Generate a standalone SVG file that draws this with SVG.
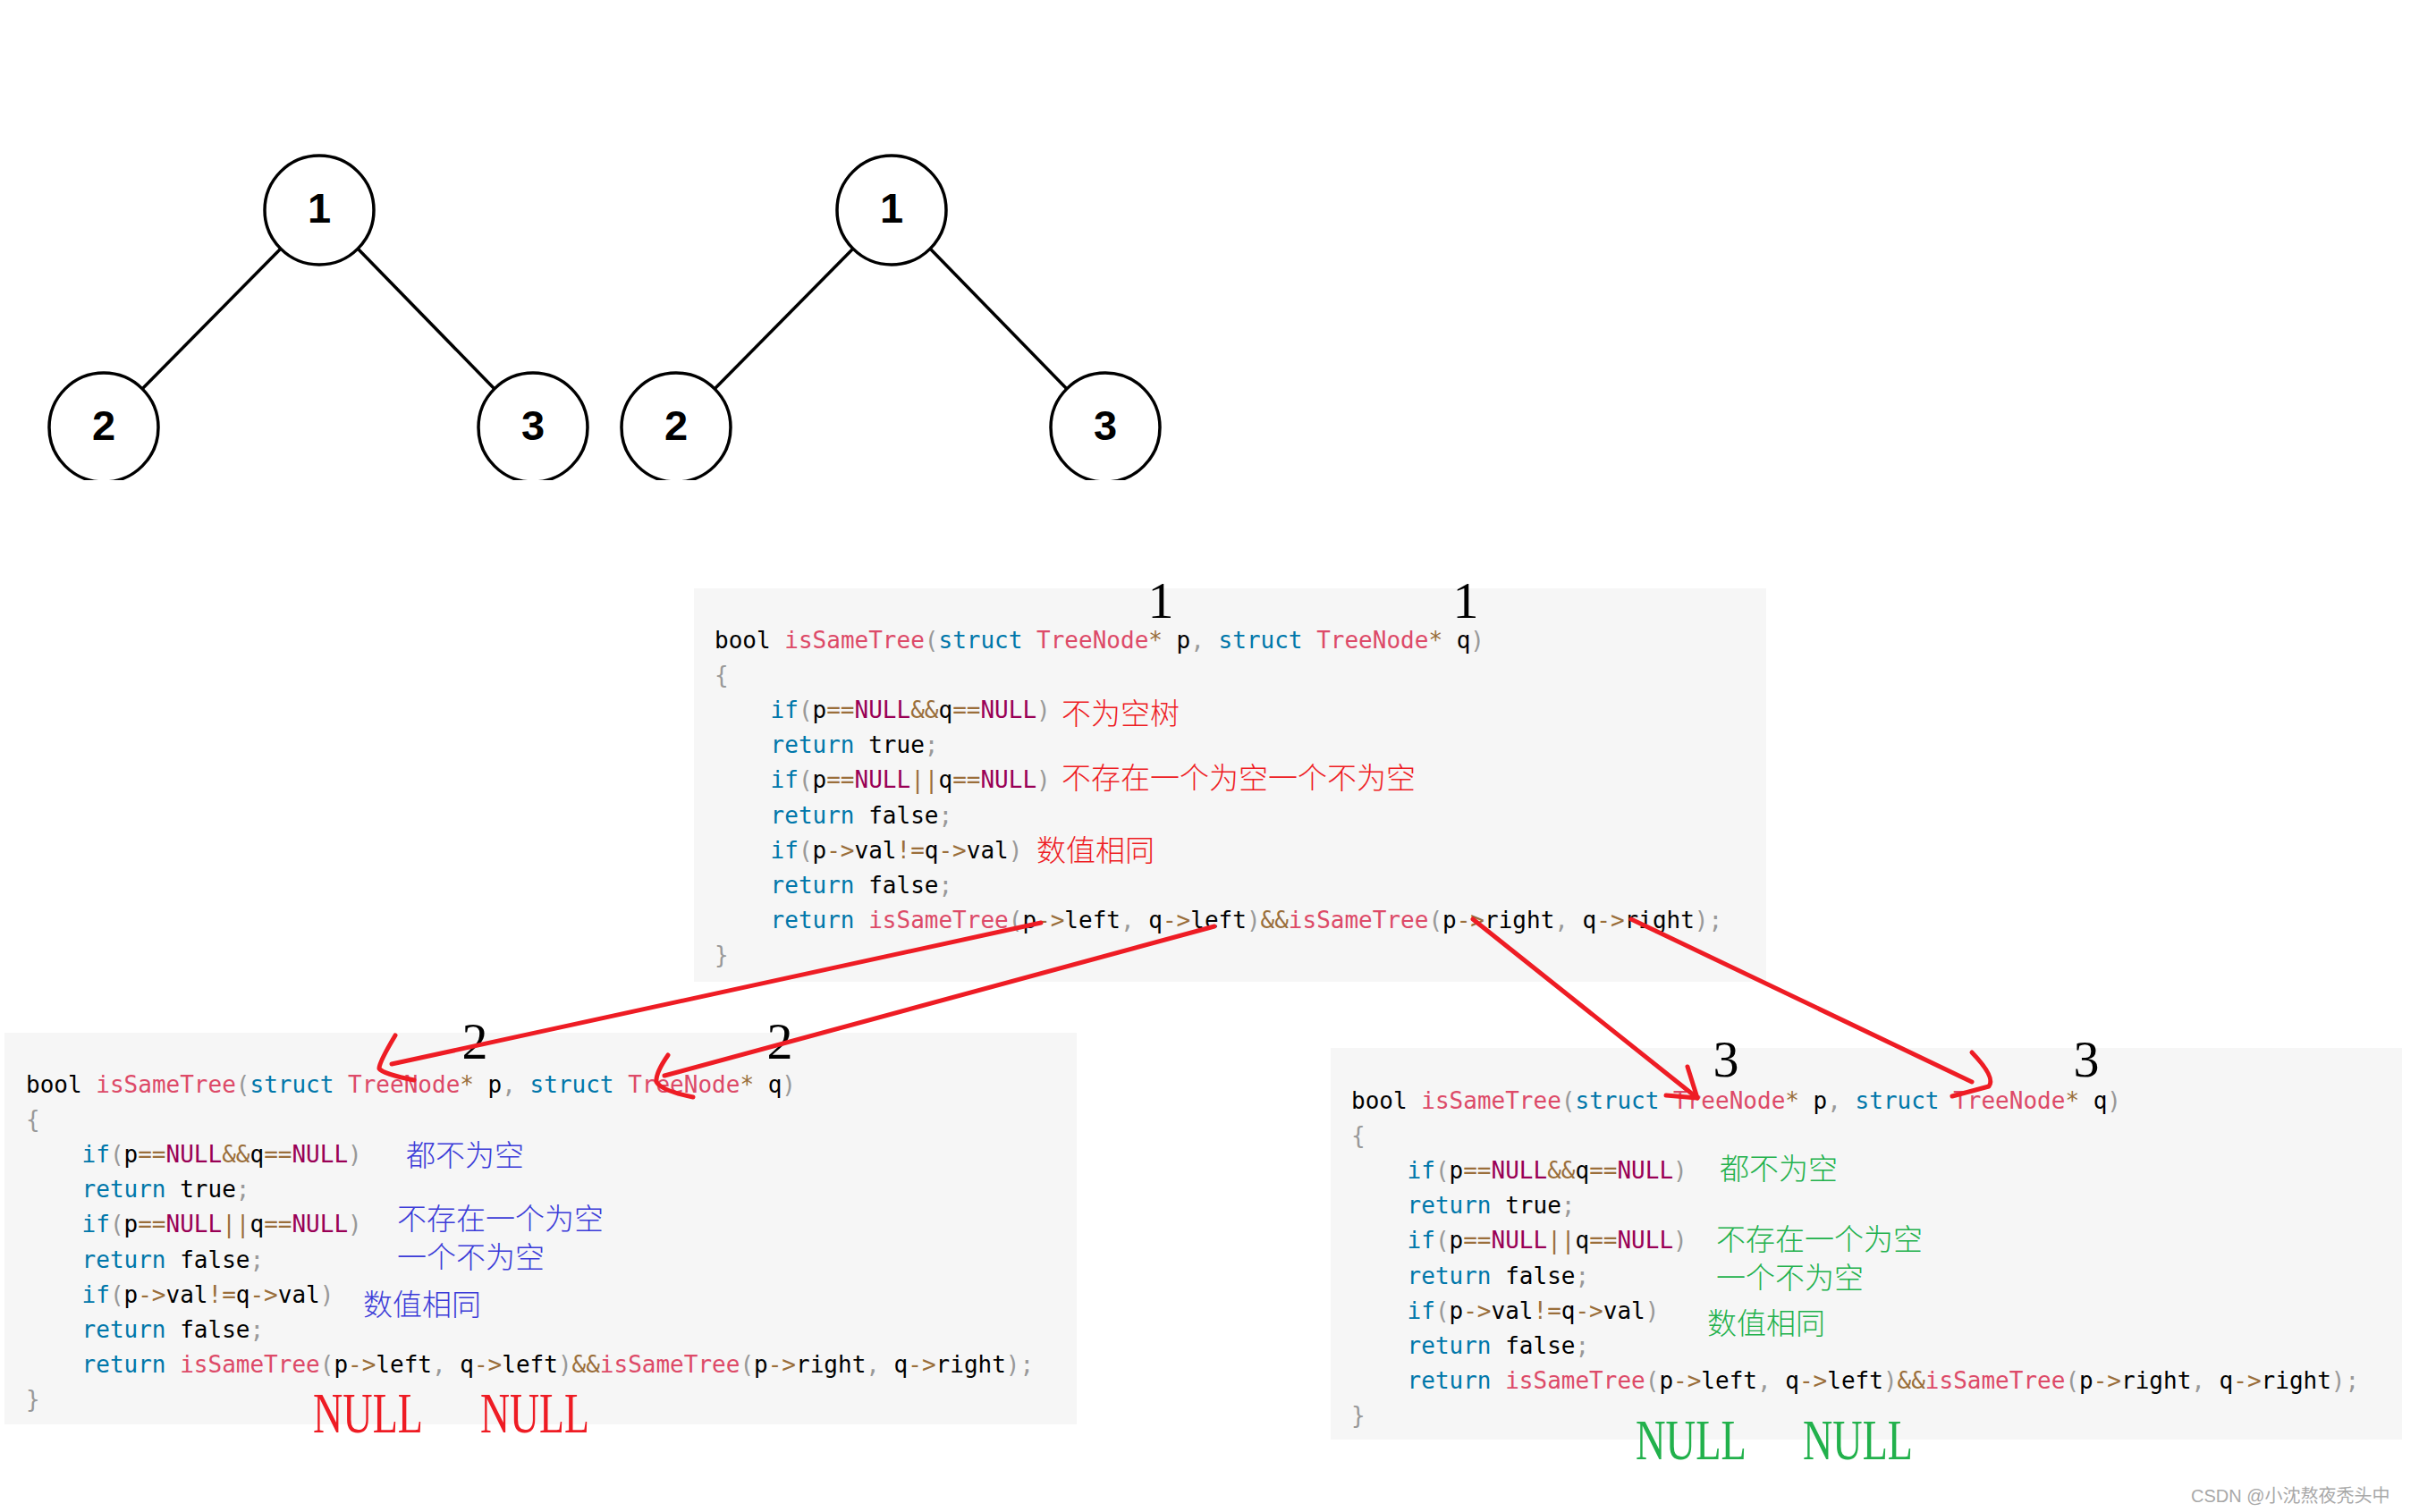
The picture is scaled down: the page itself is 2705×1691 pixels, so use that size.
<svg xmlns="http://www.w3.org/2000/svg" width="2705" height="1691" viewBox="0 0 2705 1691">
<style>
.bg{fill:#f6f6f6}
.ln{font-family:"DejaVu Sans Mono",monospace;font-size:26px;fill:#000;white-space:pre}
.k{fill:#0077aa}.f{fill:#dd4a68}.o{fill:#9a6e3a}.p{fill:#999999}.c{fill:#990055}
.node circle{fill:#fff;stroke:#000;stroke-width:3.5}
.node text{font-family:"Liberation Sans",Arial,sans-serif;font-weight:bold;font-size:47px;text-anchor:middle;fill:#000}
.edge{stroke:#000;stroke-width:3.5;fill:none}
.big{font-family:"Liberation Serif","Times New Roman",serif;font-size:58px;fill:#000;text-anchor:middle}
.cjk{font-family:"Noto Sans CJK SC",sans-serif;font-size:33px;font-weight:300}
.red{fill:#ee1c24}.blue{fill:#3b3bd8}.green{fill:#22b14c}
.null{font-family:"Liberation Serif","Times New Roman",serif;font-size:63px}
.arrow{stroke:#ee1c24;stroke-width:5;fill:none;stroke-linecap:round;stroke-linejoin:round}
.wm{font-family:"Liberation Sans","Noto Sans CJK SC",sans-serif;font-size:20px;fill:#a8a8a8}
</style>
<defs>
<clipPath id="treeclip"><rect x="0" y="0" width="1400" height="537"/></clipPath>
</defs>
<rect width="2705" height="1691" fill="#fff"/>

<g id="trees" clip-path="url(#treeclip)">
<g id="tree1-edges">
<line class="edge" x1="314" y1="278" x2="159" y2="435"/>
<line class="edge" x1="400" y1="278" x2="553" y2="435"/>
</g>
<g id="tree2-edges">
<line class="edge" x1="954" y1="278" x2="799" y2="435"/>
<line class="edge" x1="1040" y1="278" x2="1193" y2="435"/>
</g>
<g id="t1n1" class="node"><circle cx="357" cy="235" r="61"/><text x="357" y="249">1</text></g>
<g id="t1n2" class="node"><circle cx="116" cy="478" r="61"/><text x="116" y="492">2</text></g>
<g id="t1n3" class="node"><circle cx="596" cy="478" r="61"/><text x="596" y="492">3</text></g>
<g id="t2n1" class="node"><circle cx="997" cy="235" r="61"/><text x="997" y="249">1</text></g>
<g id="t2n2" class="node"><circle cx="756" cy="478" r="61"/><text x="756" y="492">2</text></g>
<g id="t2n3" class="node"><circle cx="1236" cy="478" r="61"/><text x="1236" y="492">3</text></g>
</g>

<g id="block1" transform="translate(799,725)">
<rect class="bg" x="-23" y="-67" width="1199" height="440"/>
<text class="ln" x="0" y="0" xml:space="preserve">bool <tspan class="f">isSameTree</tspan><tspan class="p">(</tspan><tspan class="k">struct</tspan> <tspan class="f">TreeNode</tspan><tspan class="o">*</tspan> p<tspan class="p">,</tspan> <tspan class="k">struct</tspan> <tspan class="f">TreeNode</tspan><tspan class="o">*</tspan> q<tspan class="p">)</tspan></text>
<text class="ln p" x="0" y="39.1">{</text>
<text class="ln" x="62.6" y="78.2" xml:space="preserve"><tspan class="k">if</tspan><tspan class="p">(</tspan>p<tspan class="o">==</tspan><tspan class="c">NULL</tspan><tspan class="o">&amp;&amp;</tspan>q<tspan class="o">==</tspan><tspan class="c">NULL</tspan><tspan class="p">)</tspan></text>
<text class="ln" x="62.6" y="117.3" xml:space="preserve"><tspan class="k">return</tspan> true<tspan class="p">;</tspan></text>
<text class="ln" x="62.6" y="156.4" xml:space="preserve"><tspan class="k">if</tspan><tspan class="p">(</tspan>p<tspan class="o">==</tspan><tspan class="c">NULL</tspan><tspan class="o">||</tspan>q<tspan class="o">==</tspan><tspan class="c">NULL</tspan><tspan class="p">)</tspan></text>
<text class="ln" x="62.6" y="195.5" xml:space="preserve"><tspan class="k">return</tspan> false<tspan class="p">;</tspan></text>
<text class="ln" x="62.6" y="234.6" xml:space="preserve"><tspan class="k">if</tspan><tspan class="p">(</tspan>p<tspan class="o">-&gt;</tspan>val<tspan class="o">!=</tspan>q<tspan class="o">-&gt;</tspan>val<tspan class="p">)</tspan></text>
<text class="ln" x="62.6" y="273.7" xml:space="preserve"><tspan class="k">return</tspan> false<tspan class="p">;</tspan></text>
<text class="ln" x="62.6" y="312.8" xml:space="preserve"><tspan class="k">return</tspan> <tspan class="f">isSameTree</tspan><tspan class="p">(</tspan>p<tspan class="o">-&gt;</tspan>left<tspan class="p">,</tspan> q<tspan class="o">-&gt;</tspan>left<tspan class="p">)</tspan><tspan class="o">&amp;&amp;</tspan><tspan class="f">isSameTree</tspan><tspan class="p">(</tspan>p<tspan class="o">-&gt;</tspan>right<tspan class="p">,</tspan> q<tspan class="o">-&gt;</tspan>right<tspan class="p">);</tspan></text>
<text class="ln p" x="0" y="351.9">}</text>
<text class="cjk red" x="388" y="85">不为空树</text>
<text class="cjk red" x="388" y="157">不存在一个为空一个不为空</text>
<text class="cjk red" x="360" y="238">数值相同</text>
</g>
<text class="big" x="1298" y="691">1</text>
<text class="big" x="1639" y="691">1</text>

<g id="block2" transform="translate(29,1222)">
<rect class="bg" x="-24" y="-67" width="1199" height="438"/>
<text class="ln" x="0" y="0" xml:space="preserve">bool <tspan class="f">isSameTree</tspan><tspan class="p">(</tspan><tspan class="k">struct</tspan> <tspan class="f">TreeNode</tspan><tspan class="o">*</tspan> p<tspan class="p">,</tspan> <tspan class="k">struct</tspan> <tspan class="f">TreeNode</tspan><tspan class="o">*</tspan> q<tspan class="p">)</tspan></text>
<text class="ln p" x="0" y="39.1">{</text>
<text class="ln" x="62.6" y="78.2" xml:space="preserve"><tspan class="k">if</tspan><tspan class="p">(</tspan>p<tspan class="o">==</tspan><tspan class="c">NULL</tspan><tspan class="o">&amp;&amp;</tspan>q<tspan class="o">==</tspan><tspan class="c">NULL</tspan><tspan class="p">)</tspan></text>
<text class="ln" x="62.6" y="117.3" xml:space="preserve"><tspan class="k">return</tspan> true<tspan class="p">;</tspan></text>
<text class="ln" x="62.6" y="156.4" xml:space="preserve"><tspan class="k">if</tspan><tspan class="p">(</tspan>p<tspan class="o">==</tspan><tspan class="c">NULL</tspan><tspan class="o">||</tspan>q<tspan class="o">==</tspan><tspan class="c">NULL</tspan><tspan class="p">)</tspan></text>
<text class="ln" x="62.6" y="195.5" xml:space="preserve"><tspan class="k">return</tspan> false<tspan class="p">;</tspan></text>
<text class="ln" x="62.6" y="234.6" xml:space="preserve"><tspan class="k">if</tspan><tspan class="p">(</tspan>p<tspan class="o">-&gt;</tspan>val<tspan class="o">!=</tspan>q<tspan class="o">-&gt;</tspan>val<tspan class="p">)</tspan></text>
<text class="ln" x="62.6" y="273.7" xml:space="preserve"><tspan class="k">return</tspan> false<tspan class="p">;</tspan></text>
<text class="ln" x="62.6" y="312.8" xml:space="preserve"><tspan class="k">return</tspan> <tspan class="f">isSameTree</tspan><tspan class="p">(</tspan>p<tspan class="o">-&gt;</tspan>left<tspan class="p">,</tspan> q<tspan class="o">-&gt;</tspan>left<tspan class="p">)</tspan><tspan class="o">&amp;&amp;</tspan><tspan class="f">isSameTree</tspan><tspan class="p">(</tspan>p<tspan class="o">-&gt;</tspan>right<tspan class="p">,</tspan> q<tspan class="o">-&gt;</tspan>right<tspan class="p">);</tspan></text>
<text class="ln p" x="0" y="351.9">}</text>
<text class="cjk blue" x="425" y="82">都不为空</text>
<text class="cjk blue" x="415" y="153">不存在一个为空</text>
<text class="cjk blue" x="415" y="196">一个不为空</text>
<text class="cjk blue" x="377" y="249">数值相同</text>
</g>
<text class="null red" x="350" y="1602" textLength="123" lengthAdjust="spacingAndGlyphs">NULL</text>
<text class="null red" x="537" y="1602" textLength="122" lengthAdjust="spacingAndGlyphs">NULL</text>
<text class="big" x="531" y="1184">2</text>
<text class="big" x="872" y="1184">2</text>

<g id="block3" transform="translate(1511,1240)">
<rect class="bg" x="-23" y="-68" width="1198" height="438"/>
<text class="ln" x="0" y="0" xml:space="preserve">bool <tspan class="f">isSameTree</tspan><tspan class="p">(</tspan><tspan class="k">struct</tspan> <tspan class="f">TreeNode</tspan><tspan class="o">*</tspan> p<tspan class="p">,</tspan> <tspan class="k">struct</tspan> <tspan class="f">TreeNode</tspan><tspan class="o">*</tspan> q<tspan class="p">)</tspan></text>
<text class="ln p" x="0" y="39.1">{</text>
<text class="ln" x="62.6" y="78.2" xml:space="preserve"><tspan class="k">if</tspan><tspan class="p">(</tspan>p<tspan class="o">==</tspan><tspan class="c">NULL</tspan><tspan class="o">&amp;&amp;</tspan>q<tspan class="o">==</tspan><tspan class="c">NULL</tspan><tspan class="p">)</tspan></text>
<text class="ln" x="62.6" y="117.3" xml:space="preserve"><tspan class="k">return</tspan> true<tspan class="p">;</tspan></text>
<text class="ln" x="62.6" y="156.4" xml:space="preserve"><tspan class="k">if</tspan><tspan class="p">(</tspan>p<tspan class="o">==</tspan><tspan class="c">NULL</tspan><tspan class="o">||</tspan>q<tspan class="o">==</tspan><tspan class="c">NULL</tspan><tspan class="p">)</tspan></text>
<text class="ln" x="62.6" y="195.5" xml:space="preserve"><tspan class="k">return</tspan> false<tspan class="p">;</tspan></text>
<text class="ln" x="62.6" y="234.6" xml:space="preserve"><tspan class="k">if</tspan><tspan class="p">(</tspan>p<tspan class="o">-&gt;</tspan>val<tspan class="o">!=</tspan>q<tspan class="o">-&gt;</tspan>val<tspan class="p">)</tspan></text>
<text class="ln" x="62.6" y="273.7" xml:space="preserve"><tspan class="k">return</tspan> false<tspan class="p">;</tspan></text>
<text class="ln" x="62.6" y="312.8" xml:space="preserve"><tspan class="k">return</tspan> <tspan class="f">isSameTree</tspan><tspan class="p">(</tspan>p<tspan class="o">-&gt;</tspan>left<tspan class="p">,</tspan> q<tspan class="o">-&gt;</tspan>left<tspan class="p">)</tspan><tspan class="o">&amp;&amp;</tspan><tspan class="f">isSameTree</tspan><tspan class="p">(</tspan>p<tspan class="o">-&gt;</tspan>right<tspan class="p">,</tspan> q<tspan class="o">-&gt;</tspan>right<tspan class="p">);</tspan></text>
<text class="ln p" x="0" y="351.9">}</text>
<text class="cjk green" x="412" y="79">都不为空</text>
<text class="cjk green" x="408" y="158">不存在一个为空</text>
<text class="cjk green" x="408" y="201">一个不为空</text>
<text class="cjk green" x="398" y="252">数值相同</text>
</g>
<text class="null green" x="1829" y="1632" textLength="124" lengthAdjust="spacingAndGlyphs">NULL</text>
<text class="null green" x="2016" y="1632" textLength="123" lengthAdjust="spacingAndGlyphs">NULL</text>
<text class="big" x="1930" y="1204">3</text>
<text class="big" x="2333" y="1204">3</text>

<g id="connectors">
<path class="arrow" d="M1164,1032 L438,1190"/>
<path class="arrow" d="M442,1158 Q424,1188 424,1195 Q428,1201 463,1208"/>
<path class="arrow" d="M1358,1036 L743,1203"/>
<path class="arrow" d="M747,1180 Q733,1200 734,1210 Q740,1220 775,1227"/>
<path class="arrow" d="M1647,1028 L1898,1228"/>
<path class="arrow" d="M1887,1193 L1898,1228 L1863,1225"/>
<path class="arrow" d="M1824,1028 L2205,1210"/>
<path class="arrow" d="M2205,1177 Q2232,1205 2224,1215 L2183,1226"/>
</g>

<text class="wm" x="2450" y="1680">CSDN @小沈熬夜秃头中</text>
</svg>
